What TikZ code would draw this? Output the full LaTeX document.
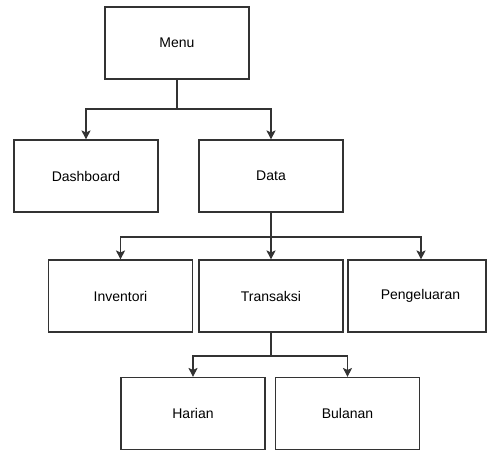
\documentclass[tikz,border=0pt]{standalone}
\usepackage{fontspec}
\setmainfont{Liberation Sans}
\usetikzlibrary{arrows.meta}
\begin{document}
\begin{tikzpicture}[x=1pt,y=-1pt,
  box/.style={draw=black!80, line width=1.1pt, fill=white, minimum width=144pt, minimum height=72pt, inner sep=0pt, font=\fontsize{14}{16}\selectfont},
  conn/.style={draw=black!80, line width=1.1pt},
  arr/.style={conn, -{Stealth[length=9pt,width=9pt,inset=2pt]}}]
\useasboundingbox (0,0) rectangle (487,450);
\node[box] (menu) at (177,43) {Menu};
\node[box] (dash) at (86,176) {Dashboard};
\node[box] (data) at (271,176) {Data};
\node[box] (inv) at (120.5,296) {Inventori};
\node[box] (trans) at (271,296) {Transaksi};
\node[box, minimum width=138pt] (peng) at (417,296) {\hspace*{7pt}Pengeluaran};
\node[box] (har) at (193,413.5) {Harian};
\node[box] (bul) at (347.5,413.5) {Bulanan};
\coordinate (m1) at (177,109);
\coordinate (d1) at (271,237);
\coordinate (t1) at (271,356);
\draw[conn] (menu.south) -- (m1);
\draw[arr] (m1) -| (dash.north);
\draw[arr] (m1) -| (data.north);
\draw[arr] (data.south) -- (trans.north);
\draw[arr] (d1) -| (inv.north);
\draw[arr] (d1) -| ([xshift=4pt]peng.north);
\draw[conn] (trans.south) -- (t1);
\draw[arr] (t1) -| (har.north);
\draw[arr] (t1) -| (bul.north);
\end{tikzpicture}
\end{document}
